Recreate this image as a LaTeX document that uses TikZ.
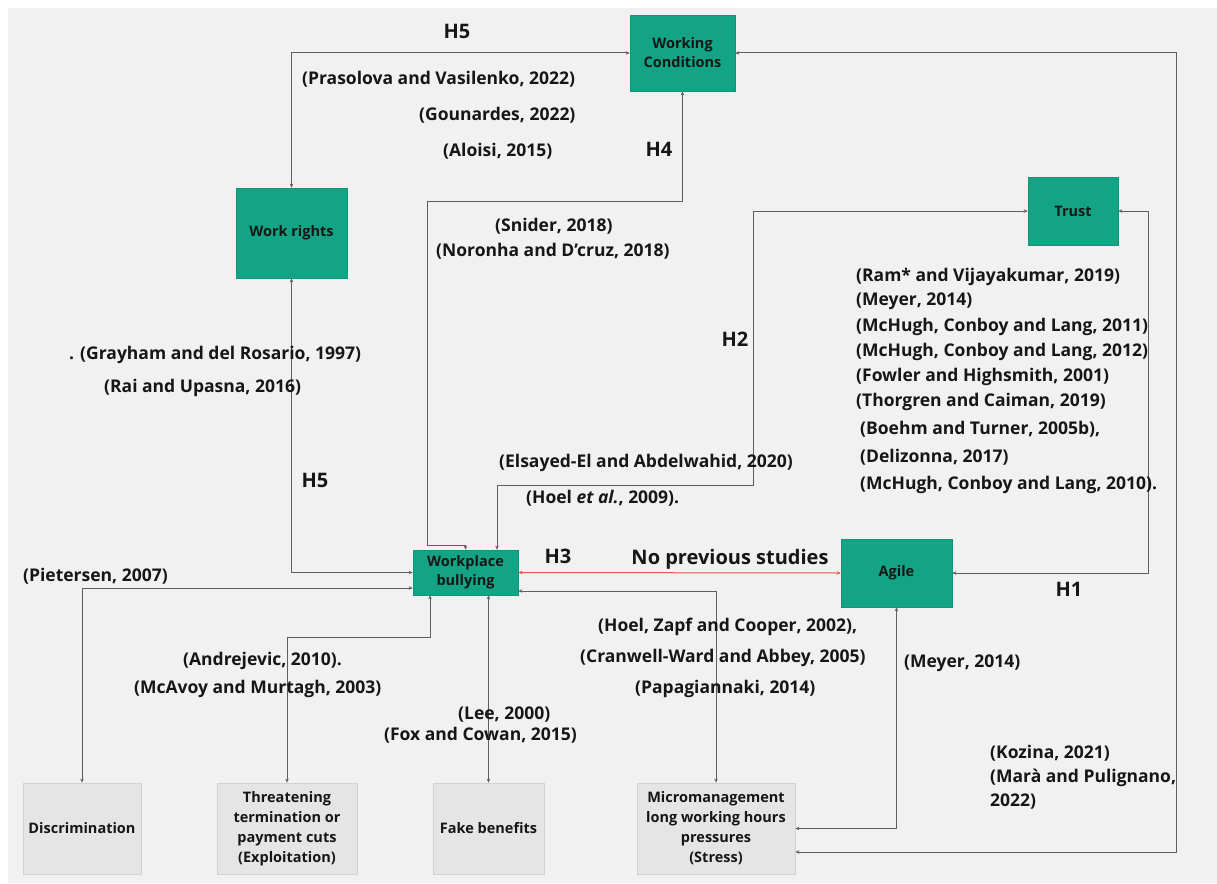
\documentclass[tikz,border=0pt]{standalone}
\usepackage{fontspec}
\setmainfont{Open Sans}
\usetikzlibrary{arrows.meta}
\definecolor{bggray}{HTML}{F1F1F1}
\definecolor{boxgreen}{HTML}{13A485}
\definecolor{boxgray}{HTML}{E5E5E5}
\definecolor{boxedge}{HTML}{D2D2D2}
\definecolor{linegray}{HTML}{5E5E5E}
\definecolor{linered}{HTML}{E0584B}
\definecolor{txt}{HTML}{161616}
\tikzset{
  greenbox/.style={fill=boxgreen, draw=boxgreen!90!black, line width=0.6pt, align=center, text=txt, font=\bfseries\fontsize{14.5}{19}\selectfont, inner sep=2pt},
  graybox/.style={fill=boxgray, draw=boxedge, line width=0.8pt, align=center, text=txt, font=\bfseries\fontsize{14.5}{20}\selectfont, inner sep=2pt},
  cite/.style={anchor=west, inner sep=0pt, text=txt, font=\bfseries\fontsize{17.5}{20}\selectfont},
  hlab/.style={inner sep=0pt, text=txt, font=\bfseries\fontsize{20}{22}\selectfont},
  conn/.style={draw=linegray, line width=1pt, {Stealth[length=4pt,width=3.5pt]}-{Stealth[length=4pt,width=3.5pt]}},
  redconn/.style={draw=linered, line width=1pt, {Stealth[length=4pt,width=3.5pt]}-{Stealth[length=4pt,width=3.5pt]}},
}
\begin{document}
\begin{tikzpicture}[x=1pt,y=-1pt]
\useasboundingbox (0,0) rectangle (1217,883);
\fill[white] (0,0) rectangle (1217,883);
\fill[bggray] (8,8) rectangle (1217,883);

% green boxes
\node[greenbox, minimum width=105pt, minimum height=76pt] (wc) at (682.5,53) {Working\\Conditions};
\node[greenbox, minimum width=111pt, minimum height=90pt] (wr) at (291.5,233) {Work rights};
\node[greenbox, minimum width=90pt, minimum height=68pt] (trust) at (1073,211) {Trust};
\node[greenbox, minimum width=105pt, minimum height=45pt] (wb) at (465.5,572.5) {Workplace\\bullying};
\node[greenbox, minimum width=111pt, minimum height=68pt] (agile) at (896.5,573) {Agile};

% gray boxes
\node[graybox, minimum width=118pt, minimum height=91pt] (disc) at (82,828.5) {Discrimination};
\node[graybox, minimum width=140pt, minimum height=91pt] (threat) at (287,828.5) {Threatening\\termination or\\payment cuts\\(Exploitation)};
\node[graybox, minimum width=111pt, minimum height=91pt] (fake) at (488.5,828.5) {Fake benefits};
\node[graybox, minimum width=158pt, minimum height=91pt] (micro) at (716,828.5) {Micromanagement\\long working hours\\pressures\\(Stress)};

% bend coordinates
\coordinate (h4a) at (427,545);
\coordinate (h4b) at (427,201);
\coordinate (h2a) at (753,485);
\coordinate (h1a) at (1148,211);
\coordinate (r1) at (1176,852);
\coordinate (t1) at (430,637);

% connectors
\draw[conn] (wr.north) |- (wc.west);
\draw[conn] (wr.south) |- (wb.west);
\draw[conn] (wb.north) |- (h4a) -- (h4b) -| (wc.south);
\draw[conn] ([xshift=31.5pt]wb.north) |- (h2a) |- (trust.west);
\draw[redconn] (wb.east) -- (agile.west);
\draw[conn] (agile.east) -| (h1a) -- (trust.east);
\draw[conn] (wc.east) -| (r1) -- (micro.east |- r1);
\draw[conn] (agile.south) |- (micro.east);
\draw[conn] ([yshift=-18.5pt]wb.east) -| (micro.north);
\draw[conn] ([yshift=-15.5pt]wb.west) -| (disc.north);
\draw[conn] (t1 |- wb.south) -- (t1) -| (threat.north);
\draw[conn] (fake.north |- wb.south) -- (fake.north);

% hypothesis labels
\node[hlab] (lh5a) at (457,31) {H5};
\node[hlab] (lh4) at (659,149) {H4};
\node[hlab] (lh2) at (735,339) {H2};
\node[hlab] (lh5b) at (315,480) {H5};
\node[hlab] (lh3) at (558,556) {H3};
\node[hlab] (lh1) at (1069,589) {H1};
\node[hlab, anchor=center] (nps) at (730,559) {No previous studies};

% citations
\node[cite] (c1) at (302,79) {(Prasolova and Vasilenko, 2022)};
\node[cite] (c2) at (419,115) {(Gounardes, 2022)};
\node[cite] (c3) at (443,151) {(Aloisi, 2015)};
\node[cite] (c4) at (495,226) {(Snider, 2018)};
\node[cite] (c5) at (436,251) {(Noronha and D’cruz, 2018)};
\node[cite] (c6) at (856,277) {(Ram* and Vijayakumar, 2019)};
\node[cite] (c7) at (856,301) {(Meyer, 2014)};
\node[cite] (c8) at (856,327) {(McHugh, Conboy and Lang, 2011)};
\node[cite] (c9) at (856,352) {(McHugh, Conboy and Lang, 2012)};
\node[cite] (c10) at (856,377) {(Fowler and Highsmith, 2001)};
\node[cite] (c11) at (856,402) {(Thorgren and Caiman, 2019)};
\node[cite] (c12) at (860,429) {(Boehm and Turner, 2005b),};
\node[cite] (c13) at (860,457) {(Delizonna, 2017)};
\node[cite] (c14) at (860,485) {(McHugh, Conboy and Lang, 2010).};
\node[cite] (c15) at (69,355) {. (Grayham and del Rosario, 1997)};
\node[cite] (c16) at (104,388) {(Rai and Upasna, 2016)};
\node[cite] (c17) at (499,463) {(Elsayed-El and Abdelwahid, 2020)};
\node[cite] (c18) at (526,498) {(Hoel \textit{et al.}, 2009).};
\node[cite] (c19) at (23,576) {(Pietersen, 2007)};
\node[cite] (c20) at (183,661) {(Andrejevic, 2010).};
\node[cite] (c21) at (134,689) {(McAvoy and Murtagh, 2003)};
\node[cite] (c22) at (458,715) {(Lee, 2000)};
\node[cite] (c23) at (384,735) {(Fox and Cowan, 2015)};
\node[cite] (c24) at (598,627) {(Hoel, Zapf and Cooper, 2002),};
\node[cite] (c25) at (580,658) {(Cranwell-Ward and Abbey, 2005)};
\node[cite] (c26) at (635,689) {(Papagiannaki, 2014)};
\node[cite] (c27) at (904,663) {(Meyer, 2014)};
\node[cite] (c28) at (990,753) {(Kozina, 2021)};
\node[cite] (c29) at (990,778) {(Marà and Pulignano,};
\node[cite] (c30) at (990,802) {2022)};
\end{tikzpicture}
\end{document}
